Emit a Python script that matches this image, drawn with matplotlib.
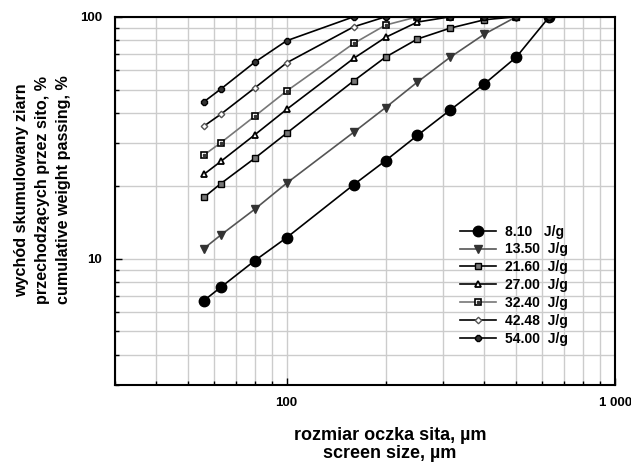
import matplotlib
matplotlib.use('Agg')
import matplotlib.pyplot as plt
from matplotlib.ticker import FixedLocator, NullFormatter, FixedFormatter
from matplotlib.legend_handler import HandlerTuple

plt.rcParams['font.family'] = ['Liberation Sans', 'DejaVu Sans']
plt.rcParams['font.weight'] = 'bold'

# sieve sizes, um
sizes = [56, 63, 80, 100, 160, 200, 250, 315, 400, 500, 630]

# cumulative passing, %
p_810 = [6.7, 7.6, 9.8, 12.2, 20.2, 25.4, 32.3, 41.2, 52.8, 68.1, 100]
p_1350 = [11.0, 12.5, 16.0, 20.5, 33.3, 42.1, 53.7, 68.1, 84.8, 100, 100]
p_2160 = [17.9, 20.4, 26.0, 33.0, 54.3, 68.1, 80.9, 89.8, 97.2, 100, 100]
p_2700 = [22.3, 25.2, 32.5, 41.4, 67.3, 82.2, 95.1, 100, 100, 100, 100]
p_3240 = [26.8, 30.1, 38.8, 49.3, 77.6, 92.4, 100, 100, 100, 100, 100]
p_4248 = [35.3, 39.5, 50.8, 64.5, 90.9, 100, 100, 100, 100, 100, 100]
p_5400 = [44.5, 50.2, 64.9, 79.6, 100, 100, 100, 100, 100, 100, 100]

labels = ['8.10   J/g', '13.50  J/g', '21.60  J/g', '27.00  J/g',
          '32.40  J/g', '42.48  J/g', '54.00  J/g']

fig = plt.figure(figsize=(6.31, 4.66), dpi=100)
ax = fig.add_axes([0.182, 0.174, 0.793, 0.79])
ax.set_xscale('log')
ax.set_yscale('log')

h1, = ax.plot(sizes, p_810, color='k', lw=1.2, marker='o', ms=7.5, mfc='k', mec='k')
h2, = ax.plot(sizes, p_1350, color='#555555', lw=1.2, marker='v', ms=6, mfc='#333333', mec='#333333')
h3, = ax.plot(sizes, p_2160, color='k', lw=1.2, marker='s', ms=5, mfc='#777777', mec='k')
h4, = ax.plot(sizes, p_2700, color='k', lw=1.2, marker='^', ms=5, mfc='white', mec='k', mew=1.3)
h5, = ax.plot(sizes, p_3240, color='#777777', lw=1.2, marker='s', ms=5, mfc='white', mec='k', mew=1.2)
h5b, = ax.plot(sizes, p_3240, ls='none', marker='s', ms=1.8, mfc='#333333', mec='#333333')
h6, = ax.plot(sizes, p_4248, color='k', lw=1.2, marker='D', ms=3.3, mfc='white', mec='#555555')
h7, = ax.plot(sizes, p_5400, color='k', lw=1.2, marker='8', ms=5, mfc='#333333', mec='k')

ax.set_xlim(30, 1000)
ax.set_ylim(3, 100)

ax.xaxis.set_major_locator(FixedLocator([100, 1000]))
ax.xaxis.set_major_formatter(FixedFormatter(['100', '1 000']))
ax.xaxis.set_minor_locator(FixedLocator([30, 40, 50, 60, 70, 80, 90, 200, 300, 400, 500, 600, 700, 800, 900]))
ax.xaxis.set_minor_formatter(NullFormatter())
ax.yaxis.set_major_locator(FixedLocator([10, 100]))
ax.yaxis.set_major_formatter(FixedFormatter(['10', '100']))
ax.yaxis.set_minor_locator(FixedLocator([3, 4, 5, 6, 7, 8, 9, 20, 30, 40, 50, 60, 70, 80, 90]))
ax.yaxis.set_minor_formatter(NullFormatter())

ax.grid(True, which='both', color='#cccccc', lw=1.0)
ax.set_axisbelow(True)
ax.tick_params(which='both', direction='in', labelsize=9.5, width=1)
ax.tick_params(which='major', length=5)
ax.tick_params(which='minor', length=3)
ax.tick_params(axis='y', pad=9)
ax.tick_params(axis='x', pad=9)
for s in ax.spines.values():
    s.set_linewidth(1.5)

ax.set_xlabel('rozmiar oczka sita, µm\nscreen size, µm', fontsize=13, fontweight='bold',
              linespacing=1.1)
ax.xaxis.set_label_coords(0.55, -0.113)
ax.set_ylabel('wychód skumulowany ziarn\nprzechodzących przez sito, %\ncumulative weight passing, %',
              fontsize=11.6, fontweight='bold', linespacing=1.5)
ax.yaxis.set_label_coords(-0.088, 0.53)

handles = [h1, h2, h3, h4, (h5, h5b), h6, h7]
leg = ax.legend(handles, labels, loc='lower right', bbox_to_anchor=(0.93, 0.072),
                frameon=False, fontsize=10, handlelength=2.6, labelspacing=0.28,
                handletextpad=0.6, handler_map={tuple: HandlerTuple(ndivide=1)})
for t in leg.get_texts():
    t.set_fontweight('bold')

fig.savefig('out.png', dpi=100)
